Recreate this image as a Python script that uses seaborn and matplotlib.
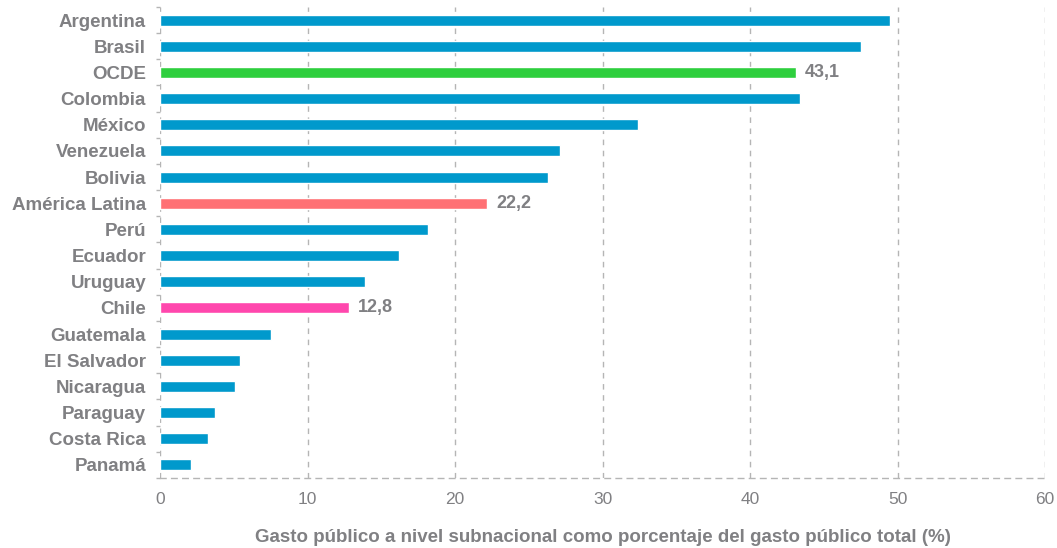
import pandas as pd
import numpy as np
import matplotlib.pyplot as plt
import seaborn as sns


paises = ["Argentina", "Brasil", "OCDE", "Colombia", "México", "Venezuela",
          "Bolivia", "América Latina", "Perú", "Ecuador", "Uruguay", "Chile",
          "Guatemala", "El Salvador", "Nicaragua", "Paraguay", "Costa Rica", "Panamá"]
gasto = [49.5, 47.5, 43.1, 43.4, 32.4, 27.1,
         26.3, 22.2, 18.2, 16.2, 13.9, 12.8,
         7.5, 5.4, 5.1, 3.7, 3.25, 2.1]
destacados = {"OCDE": "43,1", "América Latina": "22,2", "Chile": "12,8"}

AZUL = "#0099cc"
colores = {p: AZUL for p in paises}
colores["OCDE"] = "#2ecf3e"
colores["América Latina"] = "#ff7074"
colores["Chile"] = "#ff47ad"
GRIS = "#808083"


def main():
	df = pd.DataFrame({"pais": paises, "gasto": gasto})

	sns.set_style("white")
	plt.rcParams['font.family'] = ['Liberation Sans', 'DejaVu Sans']

	fig = plt.figure(figsize=(10.57, 5.48), dpi=100)
	ax = fig.add_axes([160 / 1057, 1 - 478 / 548, (1045 - 160) / 1057, 471 / 548])

	sns.barplot(data=df, y="pais", x="gasto", hue="pais", palette=colores,
				orient="h", width=0.42, legend=False, ax=ax, saturation=1)

	for i, p in enumerate(paises):
		if p in destacados:
			ax.text(gasto[i] + 0.6, i, destacados[p], va="center", ha="left",
					fontsize=13, fontweight="bold", color=GRIS)

	ax.set_xlim(0, 60)
	ax.set_ylim(len(paises) - 0.5, -0.5)
	ax.set_xticks(np.arange(0, 61, 10))
	ax.xaxis.grid(True, linestyle=(0, (4, 4)), color="#b5b5b5", linewidth=1)
	ax.set_axisbelow(True)

	for s in ["top", "right", "left"]:
		ax.spines[s].set_visible(False)
	ax.spines["bottom"].set_linestyle((0, (4, 4)))
	ax.spines["bottom"].set_color("#b5b5b5")
	ax.spines["bottom"].set_linewidth(1)

	ax.set_yticks(np.arange(len(paises)), minor=False)
	ax.set_yticks(np.arange(len(paises) + 1) - 0.5, minor=True)
	ax.tick_params(axis="y", which="major", length=0, pad=10, labelsize=13.5, labelcolor=GRIS)
	ax.tick_params(axis="y", which="minor", length=3, color="#b5b5b5", width=1, left=True)
	ax.tick_params(axis="x", length=0, pad=10, labelsize=12.5, labelcolor=GRIS)
	for lbl in ax.get_yticklabels():
		lbl.set_fontweight("bold")

	ax.set_ylabel("")
	ax.set_xlabel("Gasto público a nivel subnacional como porcentaje del gasto público total (%)",
				  fontsize=13.5, color=GRIS, fontweight="bold", labelpad=16)

	fig.savefig("out.png", dpi=100)


if __name__ == "__main__":
	main()
